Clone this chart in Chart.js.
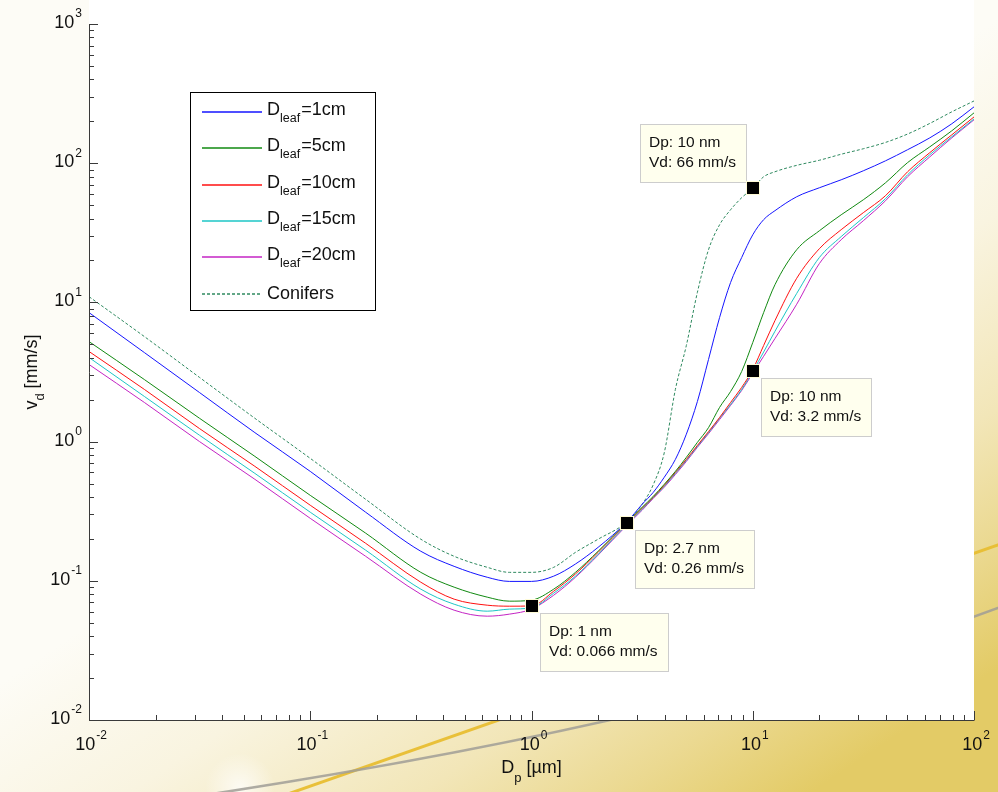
<!DOCTYPE html>
<html><head><meta charset="utf-8">
<script src="https://cdn.jsdelivr.net/npm/chart.js@4"></script>
<style>html,body{margin:0;padding:0;background:#fff;}#wrap{width:998px;height:792px;position:relative}</style>
</head><body><div id="wrap"><canvas id="c" width="998" height="792"></canvas></div>
<script>
// Particle diameter Dp [µm]
const dpUm = [0.01, 0.0178, 0.0316, 0.0562, 0.1, 0.178, 0.316, 0.447, 0.631, 0.794, 1, 1.26, 1.58, 2.0, 2.7, 3.16, 3.55, 3.98, 4.47, 5.01, 5.62, 6.31, 7.08, 7.94, 8.91, 10, 11.2, 12.6, 15.8, 20.0, 25.1, 31.6, 39.8, 50.1, 63.1, 79.4, 100];
// Deposition velocity vd [mm/s]
const vdLeaf1cm  = [8.45, 4.36, 2.25, 1.16, 0.611, 0.311, 0.163, 0.127, 0.106, 0.099, 0.099, 0.108, 0.132, 0.174, 0.265, 0.354, 0.432, 0.554, 0.745, 1.13, 1.94, 3.89, 7.78, 13.9, 21.0, 30.6, 39.3, 45.6, 57.4, 66.6, 76.0, 88.2, 104, 125, 152, 192, 254];
const vdLeaf5cm  = [5.23, 2.79, 1.47, 0.783, 0.411, 0.220, 0.115, 0.090, 0.0763, 0.0714, 0.0726, 0.0871, 0.115, 0.163, 0.263, 0.337, 0.404, 0.493, 0.611, 0.770, 0.987, 1.26, 1.76, 2.29, 3.19, 5.15, 8.45, 13.4, 23.9, 32.7, 42.6, 54.6, 72.3, 101, 131, 171, 230];
const vdLeaf10cm = [4.44, 2.37, 1.24, 0.664, 0.349, 0.186, 0.0977, 0.0738, 0.0668, 0.0657, 0.066, 0.0842, 0.112, 0.160, 0.259, 0.332, 0.398, 0.485, 0.601, 0.745, 0.939, 1.18, 1.49, 1.91, 2.45, 3.3, 4.9, 7.4, 14.9, 24.3, 33.3, 44.1, 58.4, 86.8, 119, 160, 215];
const vdLeaf15cm = [4.02, 2.11, 1.11, 0.591, 0.311, 0.166, 0.0871, 0.0679, 0.0605, 0.0626, 0.064, 0.0815, 0.108, 0.155, 0.255, 0.326, 0.395, 0.477, 0.591, 0.733, 0.924, 1.16, 1.47, 1.85, 2.37, 3.2, 4.4, 6.2, 11.6, 21.0, 29.7, 40.6, 55.6, 82.6, 115, 155, 208];
const vdLeaf20cm = [3.58, 1.91, 1.00, 0.536, 0.281, 0.150, 0.0801, 0.0615, 0.0557, 0.0576, 0.0626, 0.0788, 0.106, 0.153, 0.251, 0.321, 0.391, 0.47, 0.58, 0.72, 0.91, 1.14, 1.44, 1.82, 2.33, 3.1, 4.1, 5.5, 9.7, 19.0, 28.2, 38.6, 53.7, 79.9, 111, 152, 205];
const vdConifers = [11.0, 5.68, 2.89, 1.47, 0.758, 0.385, 0.199, 0.150, 0.125, 0.115, 0.115, 0.125, 0.160, 0.199, 0.265, 0.354, 0.49, 0.83, 2.37, 4.9, 11.8, 23.9, 36.1, 46.3, 56.5, 66, 79.9, 86.8, 96.5, 105, 116, 127, 141, 162, 193, 234, 280];

const leafSizes = ['1cm', '5cm', '10cm', '15cm', '20cm'];
const coniferLabel = 'Conifers';

// Axis ticks (decade exponents)
const xTickExp = [-2, -1, 0, 1, 2];
const yTickExp = [-2, -1, 0, 1, 2, 3];

// Data tips
const tipDp = [10, 10, 2.7, 1];
const tipVd = [66, 3.2, 0.26, 0.066];
const tipTextDp = ['Dp: 10 nm', 'Dp: 10 nm', 'Dp: 2.7 nm', 'Dp: 1 nm'];
const tipTextVd = ['Vd: 66 mm/s', 'Vd: 3.2 mm/s', 'Vd: 0.26 mm/s', 'Vd: 0.066 mm/s'];

// ---- styling ----
const tipPlacement = ['nw', 'se', 'se', 'se'];
const FONT = "'Liberation Sans', Arial, Helvetica, sans-serif";
const fnt = s => s + 'px ' + FONT;
const leafColors = ['#1515ff', '#118a11', '#ff1010', '#1cc6c6', '#c424c4'];
const coniferColor = '#2f8a60';

function pts(ys) { return dpUm.map((x, i) => ({x: x, y: ys[i]})); }
const leafSeries = [vdLeaf1cm, vdLeaf5cm, vdLeaf10cm, vdLeaf15cm, vdLeaf20cm];
const datasets = leafSeries.map((s, i) => ({
  label: 'Dleaf=' + leafSizes[i], data: pts(s), borderColor: leafColors[i],
  borderWidth: 1, pointRadius: 0, cubicInterpolationMode: 'monotone', fill: false
}));
datasets.push({label: coniferLabel, data: pts(vdConifers), borderColor: coniferColor,
  borderWidth: 1, borderDash: [3, 2], pointRadius: 0, cubicInterpolationMode: 'monotone', fill: false});

const bgPlugin = {
  id: 'bg',
  beforeDraw(chart) {
    const ctx = chart.ctx, W = chart.width, H = chart.height, a = chart.chartArea;
    ctx.save();
    const g = ctx.createLinearGradient(500, 350, 800, 800);
    g.addColorStop(0, '#fdfcf6');
    g.addColorStop(0.3, '#f9f4e0');
    g.addColorStop(0.6, '#f2e6b8');
    g.addColorStop(0.8, '#ebd991');
    g.addColorStop(1, '#e3cb66');
    ctx.fillStyle = g; ctx.fillRect(0, 0, W, H);
    const r = ctx.createRadialGradient(240, 788, 2, 240, 788, 35);
    r.addColorStop(0, 'rgba(255,255,255,0.7)'); r.addColorStop(1, 'rgba(255,255,255,0)');
    ctx.fillStyle = r; ctx.fillRect(190, 740, 100, 52);
    ctx.lineCap = 'round';
    ctx.strokeStyle = 'rgba(232,190,50,0.95)'; ctx.lineWidth = 3;
    ctx.beginPath(); ctx.moveTo(285, 795); ctx.lineTo(998, 545); ctx.stroke();
    ctx.strokeStyle = 'rgba(160,158,150,0.85)'; ctx.lineWidth = 2.5;
    ctx.beginPath(); ctx.moveTo(205, 795); ctx.quadraticCurveTo(700, 720, 998, 608); ctx.stroke();
    ctx.fillStyle = '#ffffff'; ctx.fillRect(a.left, 0, a.right - a.left, a.bottom);
    ctx.restore();
  }
};

function powLabel(ctx, x, y, exp, align) {
  const base = '10', ex = String(exp);
  ctx.font = fnt(18); const wb = ctx.measureText(base).width;
  ctx.font = fnt(12); const we = ctx.measureText(ex).width;
  const tot = wb + we + 1;
  let x0 = align === 'center' ? x - tot / 2 : x - tot;
  ctx.textBaseline = 'middle'; ctx.textAlign = 'left';
  ctx.font = fnt(18); ctx.fillText(base, x0, y);
  ctx.font = fnt(12); ctx.fillText(ex, x0 + wb + 1, y - 9);
}

const overlay = {
  id: 'overlay',
  afterDraw(chart) {
    const ctx = chart.ctx, a = chart.chartArea, xs = chart.scales.x, ys = chart.scales.y;
    ctx.save();
    // axes
    ctx.strokeStyle = '#3a3a3a'; ctx.lineWidth = 1;
    ctx.beginPath();
    ctx.moveTo(a.left + 0.5, a.top); ctx.lineTo(a.left + 0.5, a.bottom + 0.5); ctx.lineTo(a.right + 0.5, a.bottom + 0.5);
    ctx.stroke();
    ctx.beginPath();
    for (let k = 0; k < xTickExp.length; k++) {
      const e = xTickExp[k];
      for (let m = 1; m <= 9; m++) {
        if (k === xTickExp.length - 1 && m > 1) break;
        const px = Math.round(xs.getPixelForValue(m * Math.pow(10, e))) + 0.5;
        const L = m === 1 ? 9 : 5;
        ctx.moveTo(px, a.bottom); ctx.lineTo(px, a.bottom - L);
      }
    }
    for (let k = 0; k < yTickExp.length; k++) {
      const e = yTickExp[k];
      for (let m = 1; m <= 9; m++) {
        if (k === yTickExp.length - 1 && m > 1) break;
        const py = Math.round(ys.getPixelForValue(m * Math.pow(10, e))) + 0.5;
        const L = m === 1 ? 9 : 5;
        ctx.moveTo(a.left, py); ctx.lineTo(a.left + L, py);
      }
    }
    ctx.stroke();
    // tick labels
    ctx.fillStyle = '#111';
    xTickExp.forEach(e => powLabel(ctx, xs.getPixelForValue(Math.pow(10, e)) + 2, a.bottom + 25, e, 'center'));
    yTickExp.forEach(e => powLabel(ctx, a.left - 7, ys.getPixelForValue(Math.pow(10, e)) - 1, e, 'right'));
    // axis titles
    ctx.textBaseline = 'middle'; ctx.textAlign = 'left';
    {
      ctx.font = fnt(18); const wD = ctx.measureText('D').width, wR = ctx.measureText(' [µm]').width;
      ctx.font = fnt(13); const wp = ctx.measureText('p').width;
      const cx = (a.left + a.right) / 2; let x0 = cx - (wD + wp + wR) / 2;
      ctx.font = fnt(18); ctx.fillText('D', x0, 768);
      ctx.font = fnt(13); ctx.fillText('p', x0 + wD, 778);
      ctx.font = fnt(18); ctx.fillText(' [µm]', x0 + wD + wp, 768);
    }
    {
      ctx.save();
      ctx.translate(32, (a.top + a.bottom) / 2); ctx.rotate(-Math.PI / 2);
      ctx.font = fnt(18); const wv = ctx.measureText('v').width, wR = ctx.measureText(' [mm/s]').width;
      ctx.font = fnt(13); const wd = ctx.measureText('d').width;
      let x0 = -(wv + wd + wR) / 2;
      ctx.font = fnt(18); ctx.fillText('v', x0, 0);
      ctx.font = fnt(13); ctx.fillText('d', x0 + wv, 8);
      ctx.font = fnt(18); ctx.fillText(' [mm/s]', x0 + wv + wd, 0);
      ctx.restore();
    }
    // legend
    ctx.fillStyle = '#fff'; ctx.strokeStyle = '#000'; ctx.lineWidth = 1;
    ctx.fillRect(190.5, 92.5, 185, 218); ctx.strokeRect(190.5, 92.5, 185, 218);
    chart.data.datasets.forEach((ds, i) => {
      const ry = Math.round(112 + i * 36.3);
      ctx.strokeStyle = ds.borderColor; ctx.lineWidth = 1.4;
      ctx.setLineDash(ds.borderDash || []);
      ctx.beginPath(); ctx.moveTo(202, ry); ctx.lineTo(262, ry); ctx.stroke();
      ctx.setLineDash([]);
      ctx.fillStyle = '#111'; ctx.textBaseline = 'middle';
      if (i < leafSizes.length) {
        ctx.font = fnt(18); ctx.fillText('D', 267, ry - 2);
        const wD = ctx.measureText('D').width;
        ctx.font = fnt(12.5); ctx.fillText('leaf', 267 + wD, ry + 7);
        const wl = ctx.measureText('leaf').width;
        ctx.font = fnt(18); ctx.fillText('=' + leafSizes[i], 267 + wD + wl + 1, ry - 2);
      } else {
        ctx.font = fnt(18); ctx.fillText(coniferLabel, 267, ry);
      }
    });
    // data tips
    tipDp.forEach((dx, i) => {
      const mx = xs.getPixelForValue(dx), my = ys.getPixelForValue(tipVd[i]);
      ctx.font = fnt(15.5);
      const w = Math.max(ctx.measureText(tipTextDp[i]).width, ctx.measureText(tipTextVd[i]).width);
      const bw = Math.round(w + 19), bh = 58;
      let bx, by;
      if (tipPlacement[i] === 'nw') { bx = Math.round(mx - 7 - bw); by = Math.round(my - 6 - bh); }
      else { bx = Math.round(mx + 8); by = Math.round(my + 7); }
      ctx.fillStyle = '#ffffee'; ctx.strokeStyle = '#cdcdcd'; ctx.lineWidth = 1;
      ctx.fillRect(bx + 0.5, by + 0.5, bw, bh); ctx.strokeRect(bx + 0.5, by + 0.5, bw, bh);
      ctx.fillStyle = '#111'; ctx.textBaseline = 'middle'; ctx.textAlign = 'left';
      ctx.fillText(tipTextDp[i], bx + 9, by + 19);
      ctx.fillText(tipTextVd[i], bx + 9, by + 39);
      ctx.fillStyle = '#fffbd6'; ctx.fillRect(Math.round(mx) - 7, Math.round(my) - 7, 14, 14);
      ctx.fillStyle = '#000'; ctx.fillRect(Math.round(mx) - 6, Math.round(my) - 6, 12, 12);
    });
    ctx.restore();
  }
};

new Chart(document.getElementById('c'), {
  type: 'line',
  data: { datasets: datasets },
  options: {
    responsive: false, animation: false, devicePixelRatio: 1,
    layout: { padding: { top: 24, right: 24, left: 0, bottom: 0 } },
    plugins: { legend: { display: false }, tooltip: { enabled: false } },
    scales: {
      x: { type: 'logarithmic', min: 0.01, max: 100,
        ticks: { display: false }, grid: { display: false }, border: { display: false },
        afterFit(s) { s.height = 72; } },
      y: { type: 'logarithmic', min: 0.01, max: 1000,
        ticks: { display: false }, grid: { display: false }, border: { display: false },
        afterFit(s) { s.width = 89; } }
    }
  },
  plugins: [bgPlugin, overlay]
});
</script></body></html>
